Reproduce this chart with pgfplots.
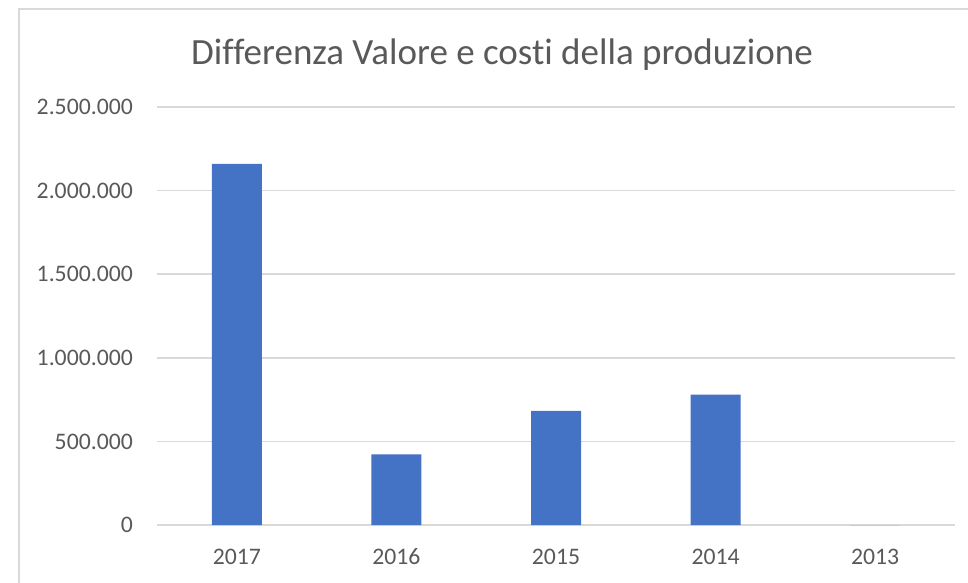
\documentclass[border=0pt]{standalone}
\usepackage{fontspec}
\setmainfont{Carlito}[Ligatures=NoCommon]
\usepackage{pgfplots}
\pgfplotsset{compat=1.18}
\definecolor{barblue}{HTML}{4472C4}
\definecolor{gridgray}{HTML}{D9D9D9}
\definecolor{txtgray}{HTML}{595959}

\begin{document}
\begin{tikzpicture}
% frame of the picture, in pixels of the reference (1pt = 1px), origin at the axis corner
\path[use as bounding box] (-157pt,-57pt) rectangle (811pt,525pt);
\draw[gridgray, line width=1.5pt] (-138pt,-60pt) -- (-138pt,516pt) -- (815pt,516pt);
\node[anchor=base, text=txtgray, font=\fontsize{37}{44}\selectfont, inner sep=0pt]
  at (345pt,460pt) {Differenza Valore e costi della produzione};

\begin{axis}[
    scale only axis,
    width=798pt,
    height=418pt,
    at={(0pt,0pt)},
    anchor=south west,
    ybar,
    bar width=50pt,
    xmin=-0.5, xmax=4.5,
    ymin=0, ymax=2500000,
    xtick={0,1,2,3,4},
    xticklabels={2017,2016,2015,2014,2013},
    ytick={0,500000,1000000,1500000,2000000,2500000},
    scaled y ticks=false,
    /pgf/number format/fixed,
    /pgf/number format/1000 sep={.},
    /pgf/number format/assume math mode=true,
    axis line style={draw=none},
    major tick length=0pt,
    ymajorgrids,
    grid style={gridgray, line width=1.5pt},
    clip=false,
    tick label style={font=\fontsize{23.7}{26}\selectfont, text=txtgray, inner sep=0pt},
    yticklabel style={anchor=east, xshift=-24pt},
    xticklabel style={anchor=base, yshift=-39pt},
]
\addplot[fill=barblue, draw=none] coordinates {
    (0,2160000)
    (1,422000)
    (2,682000)
    (3,780000)
    (4,0)
};
\end{axis}
\end{tikzpicture}
\end{document}
